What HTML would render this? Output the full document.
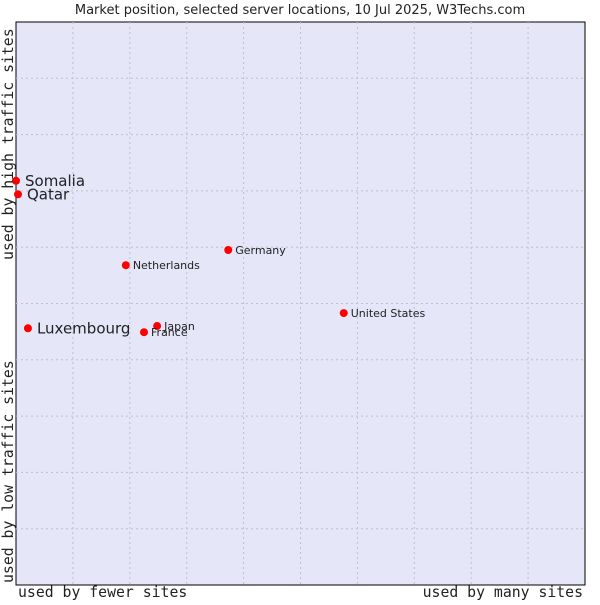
<!DOCTYPE html>
<html><head><meta charset="utf-8"><style>
body{margin:0;background:#fff;}
svg text{font-family:"DejaVu Sans","Liberation Sans",sans-serif;fill:#222;}
.mono{font-family:"DejaVu Sans Mono","Liberation Mono",monospace !important;font-size:14.8px;}
</style></head><body>
<svg id="chart" width="600" height="600">
<text x="300" y="14" text-anchor="middle" font-size="13">Market position, selected server locations, 10 Jul 2025, W3Techs.com</text>
<rect x="16" y="22" width="569" height="563" fill="#e5e6f8" stroke="#000" stroke-width="1"/>
<g id="grid"></g>
<g id="points"></g>
<text class="mono" x="18" y="597">used by fewer sites</text>
<text class="mono" x="583" y="597" text-anchor="end">used by many sites</text>
<text class="mono" transform="translate(13,583) rotate(-90)">used by low traffic sites</text>
<text class="mono" transform="translate(13,260) rotate(-90)">used by high traffic sites</text>
</svg>
<script>
const names = ["Somalia","Qatar","Luxembourg","Netherlands","Germany","United States","Japan","France"];
const xValues = [0,0.35,2.1,19.3,37.3,57.6,24.8,22.5];
const yValues = [71.8,69.4,45.6,56.8,59.5,48.3,46.0,44.9];
const bigLabel = [true,true,true,false,false,false,false,false];
const gridTicks = [10,20,30,40,50,60,70,80,90];
const X0=16,X1=585,Y0=585,Y1=22;
function sx(v){return X0+(X1-X0)*v/100;}
function sy(v){return Y0-(Y0-Y1)*v/100;}
const ns="http://www.w3.org/2000/svg";
const grid=document.getElementById('grid');
gridTicks.forEach(t=>{
  const v=document.createElementNS(ns,'line');
  
  
  v.setAttribute('x1',sx(t));v.setAttribute('x2',sx(t));v.setAttribute('y1',Y1);v.setAttribute('y2',Y0);
  v.setAttribute('stroke','#c0c0c8');v.setAttribute('stroke-dasharray','2,3');
  grid.appendChild(v);
  const h=document.createElementNS(ns,'line');
  
  
  h.setAttribute('y1',sy(t));h.setAttribute('y2',sy(t));h.setAttribute('x1',X0);h.setAttribute('x2',X1);
  h.setAttribute('stroke','#c0c0c8');h.setAttribute('stroke-dasharray','2,3');
  grid.appendChild(h);
});
const pts=document.getElementById('points');
names.forEach((n,i)=>{
  const x=sx(xValues[i]),y=sy(yValues[i]);
  const c=document.createElementNS(ns,'circle');
  
  
  c.setAttribute('cx',x);c.setAttribute('cy',y);c.setAttribute('r',4);c.setAttribute('fill','#ff0000');
  pts.appendChild(c);
  const t=document.createElementNS(ns,'text');
  
  
  const big=bigLabel[i];
  t.setAttribute('x',x+(big?9:7));t.setAttribute('y',y+(big?5:4));
  t.setAttribute('font-size',big?15:11);
  t.textContent=n;
  pts.appendChild(t);
});
</script>
</body></html>
